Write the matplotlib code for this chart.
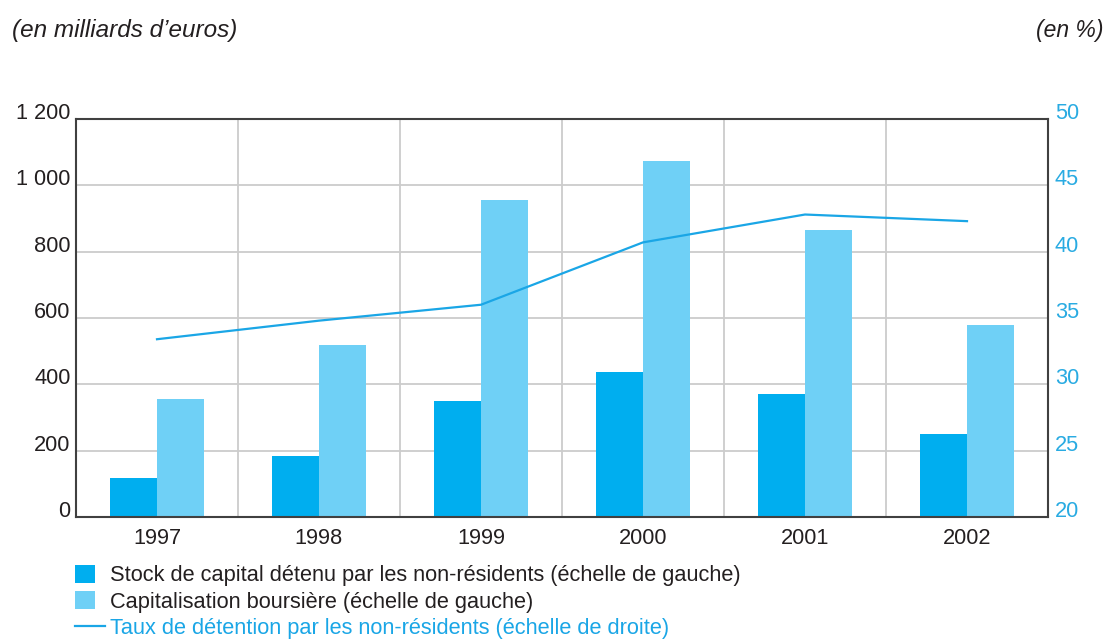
import numpy as np
import matplotlib
matplotlib.use("Agg")
import matplotlib.pyplot as plt
from matplotlib.patches import Rectangle
from matplotlib.legend_handler import HandlerPatch

plt.rcParams['font.family'] = ['Liberation Sans', 'DejaVu Sans']

# --- données ---
annees = ['1997', '1998', '1999', '2000', '2001', '2002']
stock_non_residents = [118, 183, 350, 436, 372, 249]      # milliards d'euros
capitalisation = [355, 518, 955, 1073, 866, 578]          # milliards d'euros
taux_detention = [33.4, 34.8, 36.0, 40.7, 42.8, 42.3]     # %

ticks_gauche = [0, 200, 400, 600, 800, 1000, 1200]
labels_gauche = ['0', '200', '400', '600', '800', '1 000', '1 200']
ticks_droite = [20, 25, 30, 35, 40, 45, 50]

c_fonce = '#00aeef'
c_clair = '#6fd0f6'
c_ligne = '#1aa6e6'
c_texte = '#231f20'

fig = plt.figure(figsize=(11.11, 6.43), dpi=100)
ax = fig.add_axes([76 / 1111, 1 - 517 / 643, (1048 - 76) / 1111, (517 - 119) / 643])

x = np.arange(len(annees))
w = 0.29
b1 = ax.bar(x - w / 2, stock_non_residents, w, color=c_fonce, zorder=3)
b2 = ax.bar(x + w / 2, capitalisation, w, color=c_clair, zorder=3)

ax.set_xlim(-0.5, len(annees) - 0.5)
ax.set_ylim(0, 1200)
ax.set_xticks(x)
ax.set_xticklabels(annees)
ax.set_xticks(x[:-1] + 0.5, minor=True)
ax.set_yticks(ticks_gauche)
ax.set_yticklabels(labels_gauche)
ax.grid(True, axis='y', color='#cccccc', lw=1.3, zorder=0)
ax.grid(True, axis='x', which='minor', color='#cccccc', lw=1.3, zorder=0)
ax.tick_params(axis='both', which='both', length=0, labelsize=15.7, colors=c_texte)
ax.tick_params(axis='x', pad=8)
ax.tick_params(axis='y', pad=4)
for s in ax.spines.values():
    s.set_color('#404040')
    s.set_linewidth(1.5)
    s.set_zorder(5)

ax2 = ax.twinx()
ligne, = ax2.plot(x, taux_detention, color=c_ligne, lw=1.6, zorder=4)
ax2.set_ylim(20, 50)
ax2.set_yticks(ticks_droite)
ax2.tick_params(axis='y', length=0, labelsize=15.7, colors='#29abe2', pad=5)
for s in ax2.spines.values():
    s.set_visible(False)

for t in ax.get_yticklabels() + ax2.get_yticklabels():
    t.set_verticalalignment('baseline')

fig.text(12 / 1111, 1 - 30 / 643, "(en milliards d\u2019euros)", style='italic',
         fontsize=17.5, color=c_texte, va='center', ha='left')
fig.text(1103 / 1111, 1 - 30 / 643, "(en %)", style='italic',
         fontsize=16.5, color=c_texte, va='center', ha='right')


def carre(legend, orig_handle, xdescent, ydescent, width, height, fontsize):
    # petit carré (≈20x18 px) centré verticalement dans la case de la légende
    return Rectangle((-xdescent, -ydescent + (height - 13) / 2), 14.4, 13)


leg = ax.legend(handles=[b1.patches[0], b2.patches[0], ligne],
                labels=['Stock de capital détenu par les non-résidents (échelle de gauche)',
                        'Capitalisation boursière (échelle de gauche)',
                        'Taux de détention par les non-résidents (échelle de droite)'],
                loc='upper left',
                bbox_to_anchor=(75 / 1111, 1 - 564 / 643), bbox_transform=fig.transFigure,
                frameon=False, fontsize=15.7, handlelength=1.38, handleheight=1.0,
                handletextpad=0.22, labelspacing=0.2, borderpad=0, borderaxespad=0,
                handler_map={Rectangle: HandlerPatch(patch_func=carre)})
cols = [c_texte, c_texte, c_ligne]
for t, c in zip(leg.get_texts(), cols):
    t.set_color(c)

fig.savefig('out.png', dpi=100)
